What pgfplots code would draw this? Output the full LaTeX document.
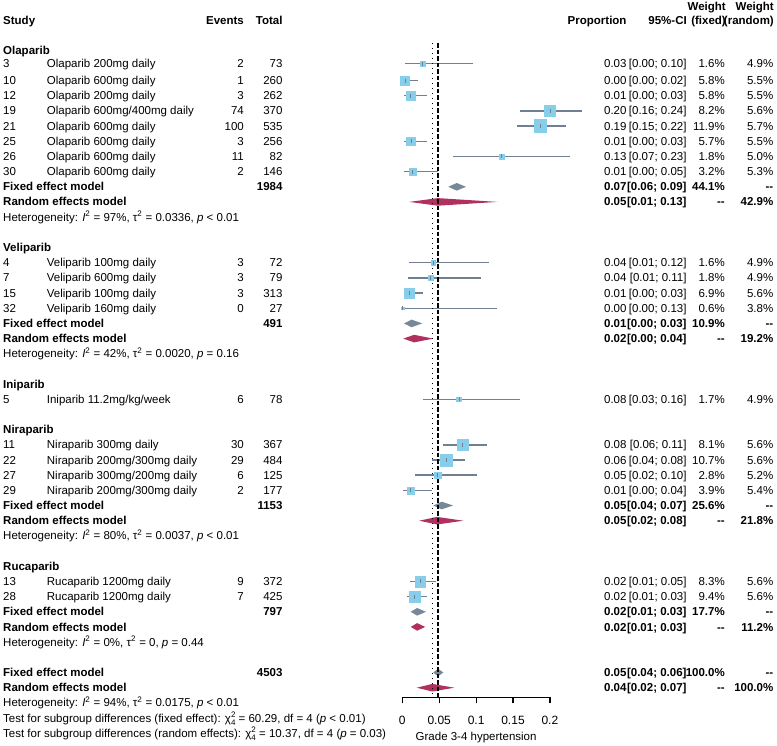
\documentclass[border=0pt]{standalone}
\usepackage{fontspec}
\setmainfont{Liberation Sans}
\usepackage{pgfplots}
\pgfplotsset{compat=1.18}
\usepackage{pgfplotstable}
\definecolor{sq}{HTML}{87CEEB}
\definecolor{ci}{HTML}{708090}
\definecolor{fe}{HTML}{778899}
\definecolor{re}{HTML}{B03060}

\pgfplotstableread{
r est lo hi w
-0.12 0.0274 0.0033 0.0955 1.6
1 0.0038 0.0001 0.0212 5.8
2 0.0115 0.0024 0.0331 5.8
3 0.2000 0.1600 0.2440 8.2
4 0.1869 0.1550 0.2220 11.9
5 0.0117 0.0024 0.0339 5.7
6 0.1341 0.0690 0.2270 1.8
7 0.0137 0.0017 0.0486 3.2
13 0.0417 0.0087 0.1170 1.6
14 0.0380 0.0079 0.1070 1.8
15 0.0096 0.0020 0.0278 6.9
16 0.0000 0.0000 0.1277 0.6
22 0.0769 0.0287 0.1601 1.7
25 0.0817 0.0558 0.1146 8.1
26 0.0599 0.0405 0.0850 10.7
27 0.0480 0.0178 0.1016 2.8
28 0.0113 0.0014 0.0402 3.9
34 0.0242 0.0111 0.0454 8.3
35 0.0165 0.0067 0.0336 9.4
}\studies

\newcommand\TL[3]{\node[anchor=base west] at (#1,{80.5+15.18*(#2-1)+4.05}) {#3};}
\newcommand\TR[3]{\node[anchor=base east] at (#1,{80.5+15.18*(#2-1)+4.05}) {#3};}
\newcommand\Study[9]{\TL{3}{#1}{#2}\TL{46.7}{#1}{#3}\TR{244}{#1}{#4}\TR{282.7}{#1}{#5}\TR{626.7}{#1}{#6}\TR{686.7}{#1}{#7}\TR{725}{#1}{#8}\TR{773.5}{#1}{#9}}
\newcommand\FE[6]{\TL{3}{#1}{\textbf{Fixed effect model}}\TR{282.7}{#1}{\textbf{#2}}\TR{626.7}{#1}{\textbf{#3}}\TR{686.7}{#1}{\textbf{#4}}\TR{725}{#1}{\textbf{#5}}\TR{773.5}{#1}{\textbf{#6}}}
\newcommand\RE[5]{\TL{3}{#1}{\textbf{Random effects model}}\TR{626.7}{#1}{\textbf{#2}}\TR{686.7}{#1}{\textbf{#3}}\TR{725}{#1}{\textbf{#4}}\TR{773.5}{#1}{\textbf{#5}}}
\newcommand\het[4]{Heterogeneity: \textit{I}\textsuperscript{2} = #1\%, τ\textsuperscript{2} = #2, \textit{p} #3 #4}
\newcommand\chisq{χ\raisebox{-3pt}{\fontsize{8}{8}\selectfont\begin{tabular}[b]{@{}l@{}}2\\4\end{tabular}}}

\begin{document}
\begin{tikzpicture}
\useasboundingbox (0pt,0pt) rectangle (777pt,-745pt);
\begin{axis}[at={(402.3pt,-697.3pt)}, anchor=south west, scale only axis,
  width=147.6pt, height=697.3pt, xmin=0, xmax=0.2, ymin=-697.3, ymax=0,
  enlargelimits=false, clip=false, axis x line*=bottom, axis y line=none,
  xtick={0,0.05,0.1,0.15,0.2}, xticklabels={0,0.05,0.1,0.15,0.2},
  tick align=outside, major tick length=6pt,
  x axis line style={line width=1.2pt, black},
  major tick style={line width=1.2pt, black},
  xticklabel style={font=\fontsize{12}{14}\selectfont, yshift=-9.4pt},
  xlabel={Grade 3-4 hypertension},
  xlabel style={at={(axis description cs:0.5,0)}, anchor=center, yshift=-40pt, font=\fontsize{11.5}{13.8}\selectfont},
]
% squares
\addplot[scatter, only marks, mark=square*, scatter/use mapped color={draw=sq,fill=sq},
  visualization depends on={1.85*sqrt(\thisrow{w})\as\msz},
  scatter/@pre marker code/.append style={/tikz/mark size=\msz}]
  table[x=est, y expr={-(80.5+15.18*(\thisrow{r}-1))}] {\studies};
% confidence intervals
\addplot[only marks, mark=|, mark size=2, color=ci, mark options={line width=0.8pt},
  error bars/.cd, x dir=both, x explicit, error mark=none,
  error bar style={line width=1.4pt, color=ci}]
  table[x=est, y expr={-(80.5+15.18*(\thisrow{r}-1))},
    x error plus expr={\thisrow{hi}-\thisrow{est}},
    x error minus expr={\thisrow{est}-\thisrow{lo}}] {\studies};
% diamonds
\addplot[fill=fe, draw=none] coordinates {(0.0623,-186.8) (0.0737,-183.0) (0.0863,-186.8) (0.0737,-190.6)};
\addplot[fill=re, draw=none] coordinates {(0.0095,-201.9) (0.048,-198.1) (0.129,-201.9) (0.048,-205.7)};
\addplot[fill=fe, draw=none] coordinates {(0.0023,-323.4) (0.0125,-319.6) (0.0271,-323.4) (0.0125,-327.2)};
\addplot[fill=re, draw=none] coordinates {(0.0014,-338.6) (0.016,-334.8) (0.042,-338.6) (0.016,-342.4)};
\addplot[fill=fe, draw=none] coordinates {(0.042,-505.5) (0.0534,-501.7) (0.069,-505.5) (0.0534,-509.3)};
\addplot[fill=re, draw=none] coordinates {(0.023,-520.7) (0.047,-516.9) (0.0827,-520.7) (0.047,-524.5)};
\addplot[fill=fe, draw=none] coordinates {(0.0113,-611.8) (0.0201,-608.0) (0.032,-611.8) (0.0201,-615.6)};
\addplot[fill=re, draw=none] coordinates {(0.0115,-626.9) (0.0201,-623.1) (0.031,-626.9) (0.0201,-630.7)};
\addplot[fill=fe, draw=none] coordinates {(0.042,-672.5) (0.0485,-668.7) (0.0556,-672.5) (0.0485,-676.3)};
\addplot[fill=re, draw=none] coordinates {(0.0195,-687.7) (0.0407,-683.9) (0.0705,-687.7) (0.0407,-691.5)};
% reference lines
\addplot[black, line width=1.3pt, dash pattern=on 1.3pt off 3.7pt] coordinates {(0.0407,-43) (0.0407,-697.3)};
\addplot[black, line width=1.3pt, dash pattern=on 4.5pt off 2pt] coordinates {(0.0485,-43) (0.0485,-697.3)};
\end{axis}

\begin{scope}[x=1pt, y=-1pt, every node/.style={inner sep=0pt, font=\fontsize{11.5}{13.8}\selectfont}]
% headers
\node[anchor=base west] at (3,24.75) {\textbf{Study}};
\node[anchor=base east] at (244,24.75) {\textbf{Events}};
\node[anchor=base east] at (282.7,24.75) {\textbf{Total}};
\node[anchor=base east] at (626.7,24.75) {\textbf{Proportion}};
\node[anchor=base east] at (687,24.75) {\textbf{95\%-CI}};
\node[anchor=base east] at (726,10.05) {\textbf{Weight}};
\node[anchor=base east] at (726,24.75) {\textbf{(fixed)}};
\node[anchor=base east] at (774,10.05) {\textbf{Weight}};
\node[anchor=base east] at (774,24.75) {\textbf{(random)}};
% Olaparib
\TL{3}{-1}{\textbf{Olaparib}}
\Study{-0.12}{3}{Olaparib 200mg daily}{2}{73}{0.03}{[0.00; 0.10]}{1.6\%}{4.9\%}
\Study{1}{10}{Olaparib 600mg daily}{1}{260}{0.00}{[0.00; 0.02]}{5.8\%}{5.5\%}
\Study{2}{12}{Olaparib 200mg daily}{3}{262}{0.01}{[0.00; 0.03]}{5.8\%}{5.5\%}
\Study{3}{19}{Olaparib 600mg/400mg daily}{74}{370}{0.20}{[0.16; 0.24]}{8.2\%}{5.6\%}
\Study{4}{21}{Olaparib 600mg daily}{100}{535}{0.19}{[0.15; 0.22]}{11.9\%}{5.7\%}
\Study{5}{25}{Olaparib 600mg daily}{3}{256}{0.01}{[0.00; 0.03]}{5.7\%}{5.5\%}
\Study{6}{26}{Olaparib 600mg daily}{11}{82}{0.13}{[0.07; 0.23]}{1.8\%}{5.0\%}
\Study{7}{30}{Olaparib 600mg daily}{2}{146}{0.01}{[0.00; 0.05]}{3.2\%}{5.3\%}
\FE{8}{1984}{0.07}{[0.06; 0.09]}{44.1\%}{-{}-}
\RE{9}{0.05}{[0.01; 0.13]}{-{}-}{42.9\%}
\TL{3}{10}{\het{97}{0.0336}{<}{0.01}}
% Veliparib
\TL{3}{12}{\textbf{Veliparib}}
\Study{13}{4}{Veliparib 100mg daily}{3}{72}{0.04}{[0.01; 0.12]}{1.6\%}{4.9\%}
\Study{14}{7}{Veliparib 600mg daily}{3}{79}{0.04}{[0.01; 0.11]}{1.8\%}{4.9\%}
\Study{15}{15}{Veliparib 100mg daily}{3}{313}{0.01}{[0.00; 0.03]}{6.9\%}{5.6\%}
\Study{16}{32}{Veliparib 160mg daily}{0}{27}{0.00}{[0.00; 0.13]}{0.6\%}{3.8\%}
\FE{17}{491}{0.01}{[0.00; 0.03]}{10.9\%}{-{}-}
\RE{18}{0.02}{[0.00; 0.04]}{-{}-}{19.2\%}
\TL{3}{19}{\het{42}{0.0020}{=}{0.16}}
% Iniparib
\TL{3}{21}{\textbf{Iniparib}}
\Study{22}{5}{Iniparib 11.2mg/kg/week}{6}{78}{0.08}{[0.03; 0.16]}{1.7\%}{4.9\%}
% Niraparib
\TL{3}{24}{\textbf{Niraparib}}
\Study{25}{11}{Niraparib 300mg daily}{30}{367}{0.08}{[0.06; 0.11]}{8.1\%}{5.6\%}
\Study{26}{22}{Niraparib 200mg/300mg daily}{29}{484}{0.06}{[0.04; 0.08]}{10.7\%}{5.6\%}
\Study{27}{27}{Niraparib 300mg/200mg daily}{6}{125}{0.05}{[0.02; 0.10]}{2.8\%}{5.2\%}
\Study{28}{29}{Niraparib 200mg/300mg daily}{2}{177}{0.01}{[0.00; 0.04]}{3.9\%}{5.4\%}
\FE{29}{1153}{0.05}{[0.04; 0.07]}{25.6\%}{-{}-}
\RE{30}{0.05}{[0.02; 0.08]}{-{}-}{21.8\%}
\TL{3}{31}{\het{80}{0.0037}{<}{0.01}}
% Rucaparib
\TL{3}{33}{\textbf{Rucaparib}}
\Study{34}{13}{Rucaparib 1200mg daily}{9}{372}{0.02}{[0.01; 0.05]}{8.3\%}{5.6\%}
\Study{35}{28}{Rucaparib 1200mg daily}{7}{425}{0.02}{[0.01; 0.03]}{9.4\%}{5.6\%}
\FE{36}{797}{0.02}{[0.01; 0.03]}{17.7\%}{-{}-}
\RE{37}{0.02}{[0.01; 0.03]}{-{}-}{11.2\%}
\TL{3}{38}{Heterogeneity: \textit{I}\textsuperscript{2} = 0\%, τ\textsuperscript{2} = 0, \textit{p} = 0.44}
% Overall
\FE{40}{4503}{0.05}{[0.04; 0.06]}{100.0\%}{-{}-}
\RE{41}{0.04}{[0.02; 0.07]}{-{}-}{100.0\%}
\TL{3}{42}{\het{94}{0.0175}{<}{0.01}}
\TL{3}{43}{Test for subgroup differences (fixed effect): \chisq{} = 60.29, df = 4 (\textit{p} < 0.01)}
\TL{3}{44}{Test for subgroup differences (random effects): \chisq{} = 10.37, df = 4 (\textit{p} = 0.03)}
\end{scope}
\end{tikzpicture}
\end{document}
